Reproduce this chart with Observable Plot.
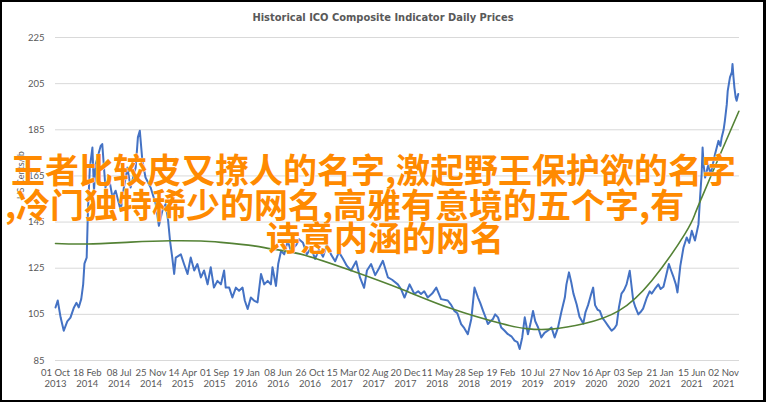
<!DOCTYPE html>
<html><head><meta charset="utf-8">
<script src="https://cdn.jsdelivr.net/npm/d3@7"></script>
<script src="https://cdn.jsdelivr.net/npm/@observablehq/plot@0.6"></script>
<style>
html,body{margin:0;padding:0;background:#fff;}
#wrap{position:relative;width:766px;height:402px;overflow:hidden;background:#fff;}
#frame{position:absolute;left:0;top:0;width:766px;height:402px;box-sizing:border-box;border:2px solid #000;border-right-width:3px;pointer-events:none;}
#title{position:absolute;left:0;top:11px;width:766px;text-align:center;font-family:"Liberation Sans Narrow","DejaVu Sans Condensed",sans-serif;font-weight:bold;font-size:11px;color:#595959;line-height:14px;}
#chart{position:absolute;left:0;top:30px;}
.wm{position:absolute;font-family:"Noto Sans CJK SC",sans-serif;font-size:34px;font-weight:700;color:#ff8a00;white-space:nowrap;line-height:34px;text-shadow:0 0 1px #fff,0 0 1px #fff;}
</style></head>
<body>
<div id="wrap">
  <div id="title">Historical ICO Composite Indicator Daily Prices</div>
  <div id="chart"></div>
  <div class="wm" style="left:11px;top:152px;">王者比较皮又撩人的名字,激起野王保护欲的名字</div>
  <div class="wm" style="left:5px;top:187px;">,冷门独特稀少的网名,高雅有意境的五个字,有</div>
  <div class="wm" style="left:266px;top:220px;">诗意内涵的网名</div>
  <div id="frame"></div>
</div>
<script>
const tickLabels = ["01 Oct\n2013","18 Feb\n2014","08 Jul\n2014","25 Nov\n2014","14 Apr\n2015","01 Sep\n2015","19 Jan\n2016","08 Jun\n2016","26 Oct\n2016","15 Mar\n2017","02 Aug\n2017","20 Dec\n2017","11 May\n2018","28 Sep\n2018","19 Feb\n2019","10 Jul\n2019","27 Nov\n2019","16 Apr\n2020","03 Sep\n2020","21 Jan\n2021","15 Jun\n2021","02 Nov\n2021"];
const tickDays = [0,100,200,300,400,500,600,700,800,900,1000,1100,1200,1300,1400,1500,1600,1700,1800,1900,2000,2100];
const yTicks = [85,105,125,145,165,185,205,225];

const priceDay = [0,7,16,26,37,47,58,66,73,81,87,91,98,102,108,116,121,126,142,147,157,168,179,189,205,215,226,236,252,259,265,273,283,299,315,325,336,346,354,360,367,373,378,394,404,415,425,436,446,457,467,478,488,498,509,520,530,535,546,556,567,577,588,595,604,614,624,635,646,656,667,677,682,693,700,709,719,730,740,756,766,778,790,803,816,828,841,853,866,879,891,904,916,929,945,957,970,979,992,1005,1017,1029,1045,1058,1076,1086,1097,1113,1128,1140,1149,1159,1170,1184,1197,1212,1233,1244,1254,1263,1275,1285,1296,1307,1317,1328,1335,1344,1351,1359,1367,1375,1382,1391,1401,1411,1422,1433,1443,1452,1459,1467,1475,1485,1493,1501,1508,1517,1527,1537,1548,1559,1569,1579,1590,1601,1606,1614,1621,1628,1638,1647,1659,1666,1674,1682,1690,1696,1704,1711,1719,1727,1737,1748,1757,1764,1771,1779,1787,1795,1805,1816,1823,1832,1839,1847,1858,1868,1874,1884,1895,1902,1911,1918,1928,1935,1943,1950,1955,1964,1974,1984,1992,2000,2010,2021,2026,2031,2034,2037,2042,2047,2052,2058,2063,2073,2084,2090,2094,2100,2104,2110,2113,2120,2126,2128,2131,2134,2138,2141,2146];
const priceValue = [108,111,103.7,97.9,102,103.6,108,110,108,111.7,118,127,129.6,150,168.7,177.3,158.6,170,178,178.8,160,164.3,155.7,158.6,150,160,168.6,160,168.6,181.7,184.6,171.6,164.3,160,152.8,143.4,150,152.8,145.6,136.9,129.6,122.5,129.6,131,126.8,122.5,129.6,124,126.8,121,124,118,125.4,116.6,119.5,118,124,116.6,116.6,112.3,116.6,115.2,116.6,111,107.3,112.3,111,110.2,122.5,118,119.5,118,125.4,117.3,126.8,132.5,131,136.9,132.5,135,137.5,136,131,134,129,133,130,135,131,128,132,129,126,124,128,121,116.5,124,126.8,122,125,128.2,121,120,118,116,112.3,118,113.8,115,113.8,115,112.3,114,116.6,111.6,111,109,106.5,105.5,100.8,99,96.4,103,116.6,112.3,110,106.5,104,100.8,102,103,105,103.7,99.3,98,96.4,95.5,93.6,93,90,95,103.7,96.4,101,106.5,102,99.3,95,97,98,99.3,95,99,106,112.3,118,123.2,119,114,109.4,104,101,106,109,113,116.6,109,107,106.5,103.5,102,100,97.9,99,100.5,108,114,115.5,118,123.9,111,108,105,106,107.5,112,115,114,116,118,116,117,121,126.8,124,121,118,114.5,126,134,138.3,136,141.2,137,144,155.6,165.8,177.3,170,164.3,167,170,166,168,174.4,180.2,178,181.7,185,188.9,196,201.9,207.7,210,213.5,208,203.3,199,197.6,200.5];

const trendDay = [0,100,236,362,457,520,624,677,771,929,1086,1244,1401,1480,1559,1663,1770,1874,1978,2010,2031,2085,2148];
const trendValue = [135.7,135.5,136.3,136.9,136.8,136.2,134.7,133.4,131.1,124,116,107.5,101,98.8,98.6,101,106.5,119.6,139.8,148.5,155.5,173,193];

const prices = priceDay.map((d, i) => ({day: d, value: priceValue[i]}));
const trend = trendDay.map((d, i) => ({day: d, value: trendValue[i]}));

const chart = Plot.plot({
  width: 766,
  height: 372,
  marginLeft: 55,
  marginRight: 27,
  marginTop: 7,
  marginBottom: 42,
  x: {domain: [0, 2150]},
  y: {domain: [85, 225]},
  style: {fontFamily: "Lato, sans-serif", fontSize: "9.5px", color: "#595959", background: "transparent"},
  marks: [
    Plot.gridY(yTicks, {stroke: "#d9d9d9", strokeOpacity: 1, strokeWidth: 1}),
    Plot.axisY(yTicks, {tickSize: 0, tickPadding: 11, label: null, fill: "#595959"}),
    Plot.axisX(tickDays, {tickSize: 0, tickPadding: 8, label: null, fill: "#595959", lineHeight: 1.15,
      tickFormat: d => tickLabels[tickDays.indexOf(d)]}),
    Plot.text(["US Cents/lb"], {frameAnchor: "left", dx: -34, rotate: -90, fill: "#595959", fontSize: 9}),
    Plot.line(prices, {x: "day", y: "value", stroke: "#4472c4", strokeWidth: 2}),
    Plot.line(trend, {x: "day", y: "value", stroke: "#548235", strokeWidth: 1.6, curve: "natural"})
  ]
});
document.getElementById("chart").appendChild(chart);
</script>
</body></html>
